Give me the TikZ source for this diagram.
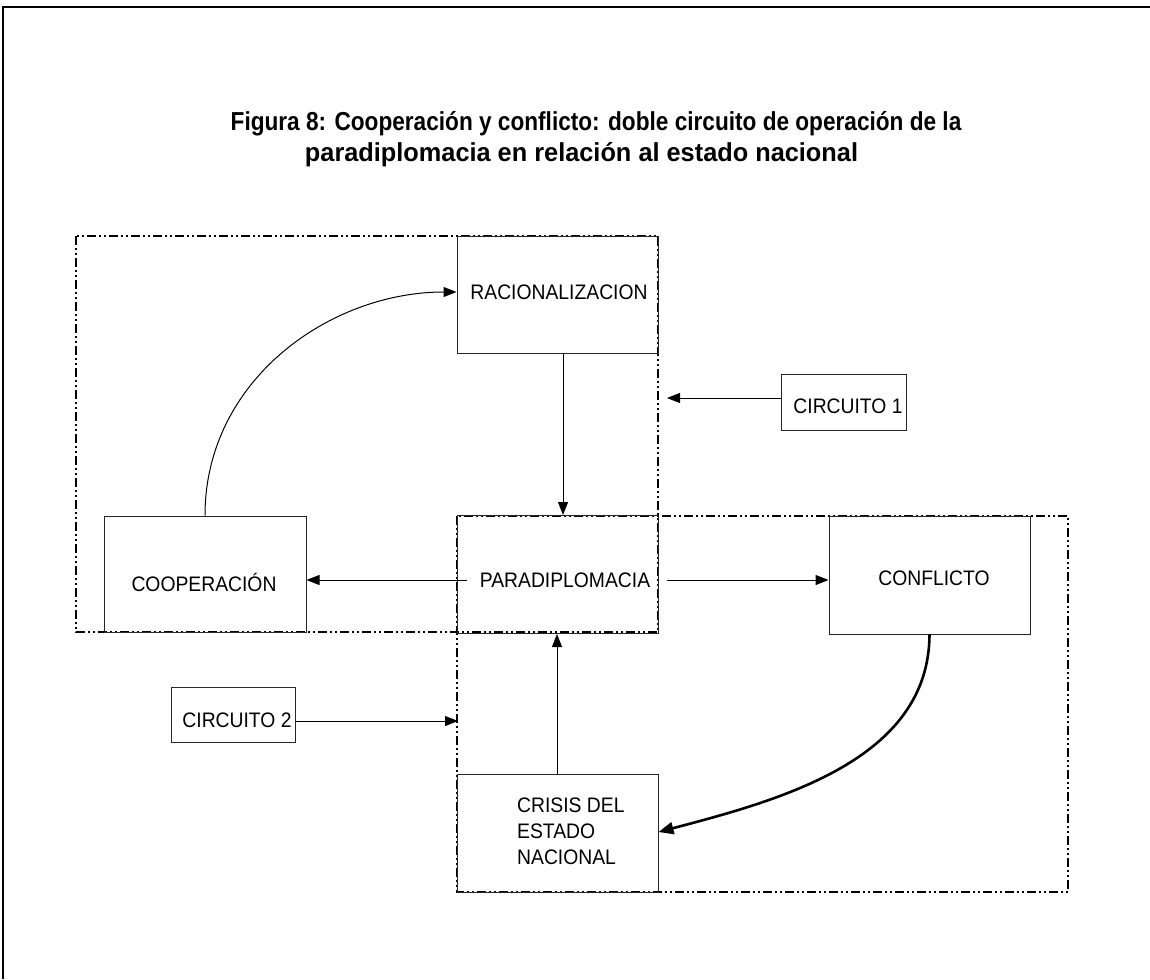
\documentclass[tikz,border=0pt]{standalone}
\usepackage{fontspec}
\setmainfont{Liberation Sans}
\usetikzlibrary{arrows.meta}
\newcommand\nrw[1]{\scalebox{0.92}[1]{#1}}
\begin{document}
\begin{tikzpicture}[x=1pt,y=-1pt,
  box/.style={draw=black!85, line width=1pt, inner sep=0pt},
  lbl/.style={font=\fontsize{21}{26}\selectfont, inner sep=0pt},
  ttl/.style={font=\bfseries\fontsize{26}{32}\selectfont, inner sep=0pt, anchor=base},
  frame/.style={draw=black, line width=1.6pt, dash pattern=on 9pt off 3pt on 2pt off 3pt on 2pt off 3pt},
  arr/.style={line width=1pt, -{Triangle[length=13pt,width=10pt]}},
  thickarr/.style={line width=2.6pt, -{Triangle[length=15pt,width=12pt]}}]
\useasboundingbox (0,0) rectangle (1150,979);
% outer frame
\draw[line width=2pt] (3,979) -- (3,7) -- (1150,7);
% title
\node[ttl] (title1) at (596,130) {\scalebox{0.87}[1]{Figura 8: Cooperación y conflicto: doble circuito de operación de la}};
\node[ttl] (title2) at (581.5,161) {\scalebox{0.974}[1]{paradiplomacia en relación al estado nacional}};
% dash-dot frames
\draw[frame] (76,236) rectangle (658,632);
\draw[frame] (457,516) rectangle (1068,892);
% boxes
\node[box, minimum width=201pt, minimum height=117pt] (rac) at (557.5,294.5) {};
\node[lbl] (ractxt) at (559,292) {\nrw{RACIONALIZACION}};
\node[box, minimum width=201pt, minimum height=118pt] (para) at (557.5,574.5) {};
\node[lbl] (paratxt) at (565,580) {\nrw{PARADIPLOMACIA}};
\node[box, minimum width=202pt, minimum height=116pt] (coop) at (205,574) {};
\node[lbl] (cooptxt) at (204,582) {\nrw{COOPERACIÓN}};
\node[box, minimum width=201pt, minimum height=118pt] (conf) at (929.5,575) {};
\node[lbl] (conftxt) at (934,578) {\nrw{CONFLICTO}};
\node[box, minimum width=201pt, minimum height=118pt] (crisis) at (557.5,833) {};
\node[lbl, align=left, anchor=west] (crisistxt) at (517,831) {\nrw{CRISIS DEL}\\\nrw{ESTADO}\\\nrw{NACIONAL}};
\node[box, minimum width=125pt, minimum height=56pt] (c1) at (843.5,402.5) {};
\node[lbl] (c1txt) at (848,406) {\nrw{CIRCUITO 1}};
\node[box, minimum width=124pt, minimum height=55pt] (c2) at (233,714.5) {};
\node[lbl] (c2txt) at (237,720) {\nrw{CIRCUITO 2}};
% connector end points
\coordinate (c1end) at (667,398);
\coordinate (c2end) at (458,721);
\coordinate (pl) at (467,580);
\coordinate (pr) at (667,580);
% arrows
\draw[arr] (c1.west |- c1end) -- (c1end);
\draw[arr] (c2.east |- c2end) -- (c2end);
\draw[arr] (rac.south -| 563,0) -- (para.north -| 563,0);
\draw[arr] (crisis.north -| 557,0) -- (para.south -| 557,0);
\draw[arr] (pl) -- (coop.east |- pl);
\draw[arr] (pr) -- (conf.west |- pr);
\draw[arr] (coop.north) .. controls (205,380) and (330,292) .. (rac.west |- 0,292);
\draw[thickarr] (conf.south) .. controls (929,760) and (780,800) .. (crisis.east |- 0,832);
\end{tikzpicture}
\end{document}
